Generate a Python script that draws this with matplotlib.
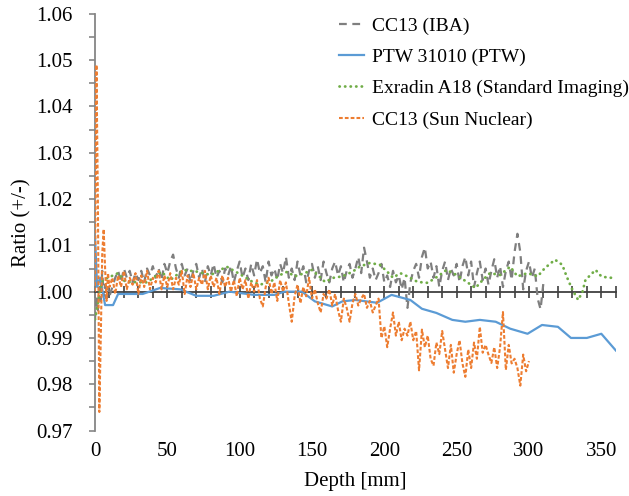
import numpy as np
import matplotlib
matplotlib.use("Agg")
import matplotlib.pyplot as plt
from matplotlib.ticker import MultipleLocator

plt.rcParams['font.family'] = 'Liberation Serif'

# ---------------- data ----------------
series_labels = ["CC13 (IBA)", "PTW 31010 (PTW)", "Exradin A18 (Standard Imaging)", "CC13 (Sun Nuclear)"]

# CC13 (IBA)
iba_depth = np.concatenate([np.arange(0, 11, 1), np.arange(12, 311, 2)])
iba_ratio = [0.994, 0.9985, 0.996, 1.001, 0.998, 1.0045, 0.999, 1.0015, 0.9985, 1.001, 0.999,
             1.001, 1.003, 1.0045, 1.002, 1.005, 1.003, 1.0045, 1.002, 1.004, 1.0025,
             1.0045, 1.002, 1.005, 1.0035, 1.0055, 1.003, 1.005, 1.0025, 1.006, 1.004,
             1.0065, 1.008, 1.005, 1.003, 1.006, 1.0035, 1.005, 1.002, 1.0045, 1.006,
             1.003, 1.005, 1.002, 1.0055, 1.0035, 1.006, 1.003, 1.0045, 1.002, 1.005,
             1.0035, 1.0055, 1.002, 1.0045, 1.0065, 1.003, 1.005, 1.0025, 1.006, 1.0035,
             1.007, 1.004, 1.0055, 1.002, 1.0065, 1.0035, 1.005, 1.0025, 1.006, 1.004,
             1.0075, 1.003, 1.005, 1.0025, 1.0065, 1.0035, 1.0055, 1.002, 1.0045, 1.006,
             1.003, 1.0055, 1.0025, 1.0065, 1.004, 1.002, 1.005, 1.0065, 1.0035, 1.0055,
             1.002, 1.0045, 1.006, 1.003, 1.005, 1.0075, 1.004, 1.0095, 1.0065, 1.003,
             1.005, 1.0025, 1.004, 1.006, 1.002, 1.0035, 1.001, 1.0045, 1.002, 1.0035,
             1.0005, 1.003, 0.9965, 1.002, 1.0045, 1.006, 1.003, 1.0075, 1.0095, 1.005,
             1.0065, 1.003, 1.0055, 1.001, 1.0045, 1.0065, 1.0025, 1.005, 1.0035, 1.006,
             1.002, 1.0055, 1.0075, 1.0035, 1.0065, 1.001, 1.004, 1.0065, 1.0025, 1.005,
             1.0015, 1.0045, 1.007, 1.003, 1.0055, 1.001, 1.0045, 1.0065, 1.0025, 1.0085,
             1.0125, 1.0085, 1.0005, 1.0045, 1.0065, 1.003, 1.005, 0.9985, 0.9962, 1.002]

# PTW 31010 (PTW)
ptw_depth = [0, 1.5, 3.5, 7, 12.5, 16, 33, 45, 59, 70, 82, 93, 110, 124, 131, 143, 152, 164, 171, 180,
             195, 205, 218, 226, 236, 247, 256, 266, 277, 287, 299, 309, 320, 329, 340, 350, 360]
ptw_ratio = [1.012, 1.001, 1.003, 0.9971, 0.9971, 0.9995, 0.9995, 1.0008, 1.0005, 0.9991,
             0.9991, 1.000, 0.9993, 0.9993, 1.000, 1.000, 0.9979, 0.9968, 0.9979, 0.9982,
             0.9976, 0.9993, 0.9982, 0.9963, 0.9954, 0.9939, 0.9935, 0.9939, 0.9935, 0.9920,
             0.9909, 0.9928, 0.9924, 0.9900, 0.9900, 0.9909, 0.9873]

# Exradin A18 (Standard Imaging)
exr_depth = [0, 2, 4, 5.5, 16, 21, 36, 46, 52, 61, 71, 80, 91, 99, 109, 114, 121, 128, 133, 138,
             145, 150, 156, 159, 165, 171, 178, 183, 190, 197, 203, 206, 211, 216, 223, 230, 237, 243,
             250, 257, 263, 268, 273, 280, 287, 292, 299, 306, 311, 318, 323, 326, 330, 334, 337, 339,
             346, 350, 355, 360]
exr_ratio = [0.994, 0.9975, 1.001, 1.0025, 1.004, 1.0021, 1.002, 1.0043, 1.0025, 1.0047,
             1.0043, 1.0036, 1.0054, 1.004, 1.0021, 1.0015, 1.0021, 1.0036, 1.0043, 1.0033,
             1.004, 1.0047, 1.003, 1.0021, 1.003, 1.0033, 1.0043, 1.0054, 1.0062, 1.0058,
             1.004, 1.003, 1.004, 1.0033, 1.0021, 1.0019, 1.0033, 1.0047, 1.0036, 1.0021,
             1.0008, 1.0025, 1.004, 1.0036, 1.0054, 1.0033, 1.004, 1.0033, 1.0051, 1.0069,
             1.0058, 1.0033, 1.0004, 0.9982, 1.000, 1.0025, 1.0047, 1.0033, 1.003, 1.003]

# CC13 (Sun Nuclear)
sun_depth = np.concatenate([np.arange(0, 11, 1), np.arange(12, 301, 2)])
sun_ratio = [1.000, 1.049, 1.020, 0.974, 0.990, 1.008, 1.0135, 1.005, 0.998, 1.004, 1.001,
             1.003, 0.9995, 1.0035, 1.001, 1.0045, 1.0005, 1.003, 1.0015, 1.004, 0.9995,
             1.0035, 1.001, 1.0045, 1.0005, 1.003, 1.002, 1.0045, 1.0005, 1.0035, 1.001,
             1.004, 1.0005, 1.003, 1.0015, 1.0045, 0.9995, 1.0035, 1.001, 1.004, 1.0005,
             1.003, 1.0015, 1.0045, 1.0005, 1.0035, 1.001, 1.003, 0.9995, 1.0035, 1.001,
             1.003, 1.000, 1.0025, 0.999, 1.003, 1.0005, 1.0025, 0.9985, 1.002, 1.000,
             1.0025, 0.9985, 0.9968, 1.001, 1.003, 0.9995, 1.002, 0.998, 1.0025, 1.000,
             1.002, 0.9975, 0.9935, 0.999, 1.0015, 0.9975, 1.001, 0.999, 1.003, 0.9985,
             1.0005, 0.9975, 0.9955, 0.9995, 0.9985, 1.0005, 0.997, 0.9995, 0.996, 0.9935,
             0.9985, 0.9965, 0.9935, 0.9975, 0.9995, 0.997, 0.9985, 0.9995, 0.9965, 0.998,
             0.9955, 0.997, 0.9985, 0.990, 0.9925, 0.988, 0.992, 0.9955, 0.9905, 0.9935,
             0.9895, 0.992, 0.9905, 0.9935, 0.9895, 0.9915, 0.983, 0.9918, 0.988, 0.9905,
             0.9855, 0.984, 0.989, 0.9865, 0.9915, 0.9875, 0.9835, 0.9885, 0.9825, 0.9865,
             0.9895, 0.9845, 0.9816, 0.9875, 0.9835, 0.989, 0.9855, 0.9924, 0.9868, 0.9885,
             0.9864, 0.9846, 0.988, 0.9835, 0.988, 0.9956, 0.9831, 0.9885, 0.9845, 0.9855,
             0.9835, 0.9797, 0.9864, 0.9828, 0.985]

y_ticks = [0.97, 0.98, 0.99, 1.00, 1.01, 1.02, 1.03, 1.04, 1.05, 1.06]
x_ticks = [0, 50, 100, 150, 200, 250, 300, 350]

# ---------------- plot ----------------
FAM = 'Liberation Serif'
FS = 15
FS_LEG = 14

fig = plt.figure(figsize=(6.29, 4.96), dpi=100)
ax = fig.add_axes([0.151, 0.132, 0.828, 0.840])

ax.plot(iba_depth, iba_ratio, color='#7f7f7f', lw=1.6, dashes=(3.5, 2.5), label=series_labels[0], zorder=3)
ax.plot(ptw_depth, ptw_ratio, color='#5B9BD5', lw=1.6, label=series_labels[1], zorder=3)
ax.plot(exr_depth, exr_ratio, color='#70AD47', lw=2.0, dashes=(0.1, 1.9), dash_capstyle='round',
        label=series_labels[2], zorder=3)
ax.plot(sun_depth, sun_ratio, color='#ED7D31', lw=1.5, dashes=(1.8, 1.0), label=series_labels[3], zorder=3)

ax.set_xlim(0, 360)
ax.set_ylim(0.97, 1.06)

ax.spines['top'].set_visible(False)
ax.spines['right'].set_visible(False)
ax.spines['left'].set_color('#868686')
ax.spines['left'].set_linewidth(1.3)
ax.spines['bottom'].set_position(('data', 1.0))
ax.spines['bottom'].set_color('#404040')
ax.spines['bottom'].set_linewidth(1.3)

ax.set_yticks(y_ticks)
ax.set_yticklabels([f"{v:.2f}" for v in y_ticks], family=FAM, fontsize=FS)
ax.yaxis.set_minor_locator(MultipleLocator(0.005))
ax.tick_params(axis='y', which='both', direction='out', length=4.3, width=1.2, color='#868686', pad=12)

ax.xaxis.set_major_locator(MultipleLocator(10))
ax.tick_params(axis='x', which='both', direction='inout', length=9, width=1.2, color='#404040',
               labelbottom=False)

sec = ax.secondary_xaxis('bottom')
sec.set_xticks(x_ticks)
sec.set_xticklabels([str(v) for v in x_ticks], family=FAM, fontsize=FS)
sec.spines['bottom'].set_visible(False)
sec.tick_params(axis='x', length=0, pad=8)
sec.set_xlabel("Depth [mm]", family=FAM, fontsize=FS, labelpad=8)

ax.set_ylabel("Ratio (+/-)", family=FAM, fontsize=FS)
ax.yaxis.set_label_coords(-0.121, 0.5)

leg = ax.legend(loc='upper left', bbox_to_anchor=(339 / 629, 1 - 17 / 496), bbox_transform=fig.transFigure,
                frameon=False, prop={'family': FAM, 'size': FS_LEG}, handlelength=1.3, handletextpad=0.38,
                labelspacing=0.7, borderpad=0, borderaxespad=0)

fig.savefig("out.png", dpi=100)
